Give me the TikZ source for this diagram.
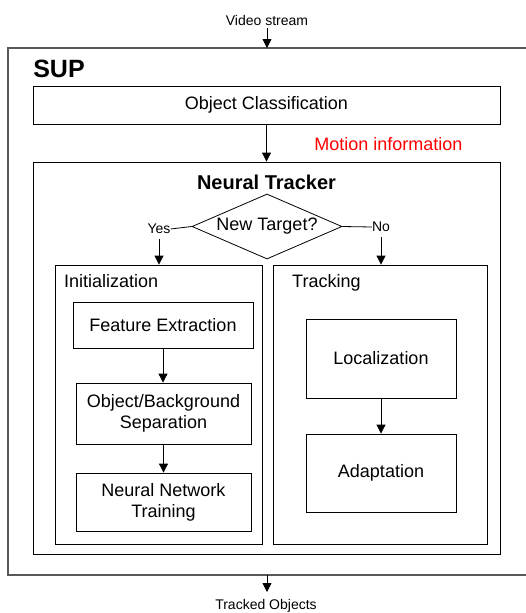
\documentclass[tikz,border=0pt]{standalone}
\usepackage{fontspec}
\setmainfont{Liberation Sans}
\usetikzlibrary{arrows.meta,shapes.geometric}

\begin{document}
\begin{tikzpicture}[x=1pt, y=-1pt,
        every node/.style={inner sep=1pt},
        blk/.style={draw, line width=0.8pt, inner sep=0pt,
            font=\fontsize{18}{21}\selectfont, align=center},
        txt/.style={font=\fontsize{18}{21}\selectfont},
        small/.style={font=\fontsize{14}{16}\selectfont},
        arr/.style={line width=0.8pt, -{Triangle[length=9pt,width=9pt]}}
    ]
    \path [use as bounding box] (0,0) rectangle (525,613);

    % outer frame, its right side runs off the page
    \draw [black!65, line width=1.4pt] (527,48) -- (8,48) -- (8,575) -- (527,575);
    \coordinate (intip) at (267,48);
    \coordinate (outtail) at (267,575);
    \coordinate (outtip) at (267,592);
    \node [font=\fontsize{25}{28}\selectfont\bfseries] (suplbl) at (59,69) {SUP};
    \node [small] (video) at (267,20) {Video stream};
    \node [small] (tracked) at (266,606) {Tracked Objects};

    \node [blk, minimum width=467, minimum height=38] (oc) at (266.5,105)
        {Object Classification};
    \node [txt, text=red] (motion) at (388.5,144) {Motion information};

    % neural tracker
    \node [blk, minimum width=467, minimum height=392] (nt) at (266.5,358) {};
    \node [font=\fontsize{20}{23}\selectfont\bfseries] (ntlbl) at (266.5,182)
        {Neural Tracker};
    \node [draw, diamond, line width=0.8pt, aspect=2.3, inner sep=0pt,
        minimum width=150, minimum height=65, txt] (newt) at (267,226.5)
        {New Target?};
    \node [small, inner sep=0pt] (yes) at (159,229) {Yes};
    \node [small, inner sep=0pt] (no) at (381,227) {No};

    \node [blk, minimum width=207, minimum height=279] (init) at (158.5,404.5) {};
    \node [txt, anchor=base west] (initlbl) at (63,287.5) {Initialization};
    \node [blk, minimum width=214, minimum height=279] (trk) at (380,404.5) {};
    \node [txt, anchor=base west] (trklbl) at (291,287.5) {Tracking};

    \node [blk, minimum width=180, minimum height=46] (fe) at (163,325)
        {Feature Extraction};
    \node [blk, minimum width=175, minimum height=61] (obs) at (163.5,413.5)
        {Object/Background\\Separation};
    \node [blk, minimum width=175, minimum height=58] (nnt) at (163.5,502)
        {Neural Network\\Training};

    \node [blk, minimum width=150, minimum height=79] (loc) at (381,358.5)
        {Localization};
    \node [blk, minimum width=150, minimum height=78] (ada) at (381,473)
        {Adaptation};

    % connectors
    \draw [arr] (video.south) ++(0,2) -- (intip);
    \draw [arr] (oc.south -| nt.north) -- (nt.north);
    \draw [line width=0.8pt] (newt.west) -- (yes.east) (newt.east) -- (no.west);
    \draw [arr] (yes.south) ++(0,5) -- (yes.south |- init.north);
    \draw [arr] (no.south) ++(0,5) -- (no.south |- trk.north);
    \draw [arr] (fe.south) -- (fe.south |- obs.north);
    \draw [arr] (obs.south) -- (nnt.north);
    \draw [arr] (loc.south) -- (ada.north);
    \draw [arr] (outtail) -- (outtip);
\end{tikzpicture}
\end{document}
